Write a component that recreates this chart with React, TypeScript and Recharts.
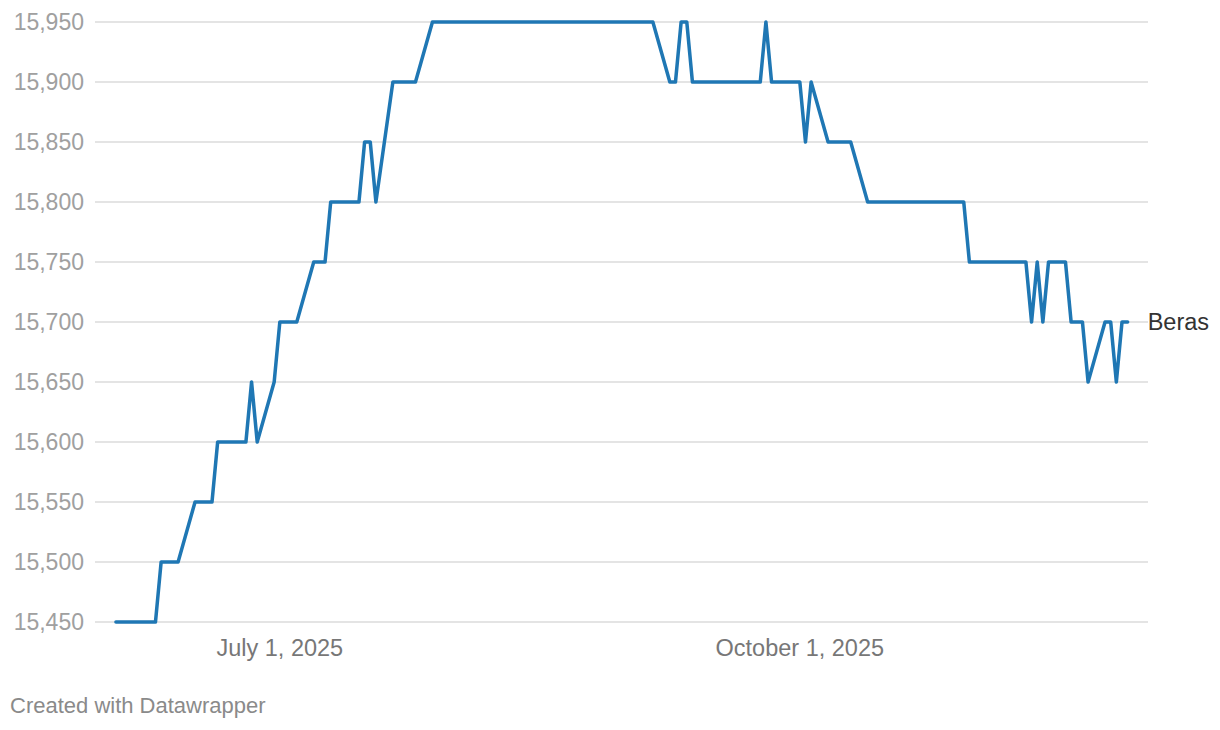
import { LineChart, Line, XAxis, YAxis, CartesianGrid } from 'recharts';

// weekday observations where the line changes direction (ISO dates)
const dates = [
  '2025-06-02', '2025-06-09', '2025-06-10', '2025-06-13', '2025-06-16', '2025-06-19',
  '2025-06-20', '2025-06-25', '2025-06-26', '2025-06-27', '2025-06-30', '2025-07-01',
  '2025-07-04', '2025-07-07', '2025-07-09', '2025-07-10', '2025-07-15', '2025-07-16',
  '2025-07-17', '2025-07-18', '2025-07-21', '2025-07-25', '2025-07-28', '2025-09-05',
  '2025-09-08', '2025-09-09', '2025-09-10', '2025-09-11', '2025-09-12', '2025-09-24',
  '2025-09-25', '2025-09-26', '2025-10-01', '2025-10-02', '2025-10-03', '2025-10-06',
  '2025-10-10', '2025-10-13', '2025-10-30', '2025-10-31', '2025-11-10', '2025-11-11',
  '2025-11-12', '2025-11-13', '2025-11-14', '2025-11-17', '2025-11-18', '2025-11-20',
  '2025-11-21', '2025-11-24', '2025-11-25', '2025-11-26', '2025-11-27', '2025-11-28',
];

const beras = [
  15450, 15450, 15500, 15500, 15550, 15550,
  15600, 15600, 15650, 15600, 15650, 15700,
  15700, 15750, 15750, 15800, 15800, 15850,
  15850, 15800, 15900, 15900, 15950, 15950,
  15900, 15900, 15950, 15950, 15900, 15900,
  15950, 15900, 15900, 15850, 15900, 15850,
  15850, 15800, 15800, 15750, 15750, 15700,
  15750, 15700, 15750, 15750, 15700, 15700,
  15650, 15700, 15700, 15650, 15700, 15700,
];

const yTicks = [15450, 15500, 15550, 15600, 15650, 15700, 15750, 15800, 15850, 15900, 15950];
const xTickDates = ['2025-07-01', '2025-10-01'];

const DAY = 86400000;
const toMs = (d: string) => Date.parse(d + 'T00:00:00Z');

const data = dates.map((d, i) => ({ t: toMs(d), value: beras[i] }));
const xTicks = xTickDates.map(toMs);
const xDomain = [toMs('2025-07-01') - 32.7 * DAY, toMs('2025-07-01') + 153.6 * DAY];

const MONTHS = ['January', 'February', 'March', 'April', 'May', 'June', 'July', 'August', 'September', 'October', 'November', 'December'];
const fmtDate = (t: number) => {
  const d = new Date(t);
  return `${MONTHS[d.getUTCMonth()]} ${d.getUTCDate()}, ${d.getUTCFullYear()}`;
};

const FONT = '"Liberation Sans", Arial, Helvetica, sans-serif';

const EndLabel = (props: any) => {
  const { x, y, index } = props;
  if (index !== data.length - 1) return null;
  return (
    <text x={x + 20} y={y} dy="0.355em" fill="#333333" fontSize={23.5} fontFamily={FONT}>
      Beras
    </text>
  );
};

export default function App() {
  return (
    <div style={{ position: 'absolute', left: 0, top: 0, width: 1220, height: 730, background: '#fff' }}>
      <LineChart
        width={1220}
        height={730}
        data={data}
        margin={{ top: 22, right: 72, bottom: 0, left: 0 }}
      >
        <CartesianGrid vertical={false} stroke="#e4e4e4" strokeWidth={2} />
        <XAxis
          dataKey="t"
          type="number"
          domain={xDomain}
          ticks={xTicks}
          tickFormatter={fmtDate}
          axisLine={false}
          tickLine={false}
          tickSize={0}
          tickMargin={17}
          height={108}
          tick={{ fill: '#777777', fontSize: 23.5, fontFamily: FONT }}
          allowDataOverflow
        />
        <YAxis
          type="number"
          domain={[15450, 15950]}
          ticks={yTicks}
          tickFormatter={(v: number) => v.toLocaleString('en-US')}
          axisLine={false}
          tickLine={false}
          tickSize={0}
          tickMargin={11}
          width={95}
          tick={{ fill: '#a0a0a0', fontSize: 23, fontFamily: FONT }}
        />
        <Line
          type="linear"
          dataKey="value"
          stroke="#1f77b4"
          strokeWidth={3.5}
          strokeLinejoin="round"
          strokeLinecap="round"
          dot={false}
          activeDot={false}
          isAnimationActive={false}
          label={<EndLabel />}
        />
      </LineChart>
      <div
        style={{
          position: 'absolute',
          left: 10,
          top: 692,
          fontFamily: FONT,
          fontSize: 22,
          color: '#8a8a8a',
          lineHeight: '28px',
        }}
      >
        Created with Datawrapper
      </div>
    </div>
  );
}
